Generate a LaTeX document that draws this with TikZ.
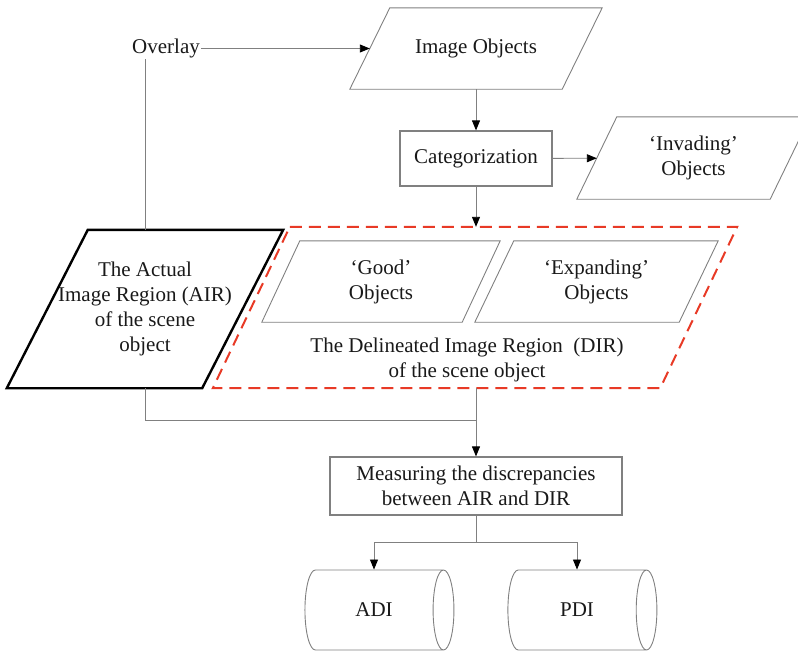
\documentclass[tikz,border=0pt]{standalone}
\usepackage{fontspec}
\setmainfont{Liberation Serif}
\usetikzlibrary{shapes.geometric,arrows.meta,positioning,calc}
\definecolor{dashred}{RGB}{232,58,38}
\tikzset{
    line/.style    = {draw=black!50, line width=0.9pt},
    arr/.style     = {line, -{Triangle[length=10pt,width=8pt,color=black,fill=black]}},
    txt/.style     = {font=\fontsize{21}{25}\selectfont, text=black!90, align=center, inner sep=1pt},
    para/.style    = {txt, rectangle, inner sep=0pt},
    paraline/.style = {draw=black!50, line width=0.9pt, line join=miter},
    airline/.style  = {draw=black, line width=2.4pt, line join=miter},
    dirline/.style  = {draw=dashred, line width=2pt, dash pattern=on 12pt off 7pt},
    box/.style     = {txt, rectangle, draw=black!50, line width=1.2pt, inner sep=0pt},
    store/.style   = {txt, cylinder, draw=black!50, line width=0.9pt, shape aspect=1.5,
                      minimum width=80pt, minimum height=149pt, inner sep=0pt}
}
% outline of a parallelogram round a node: #1 style, #2 node, #3 half slant
\newcommand{\paraedge}[3][paraline]{%
    \draw[#1] ($(#2.north west)+(#3,0)$) -- ($(#2.north east)+(#3,0)$)
        -- ($(#2.south east)-(#3,0)$) -- ($(#2.south west)-(#3,0)$) -- cycle;}
\begin{document}
\begin{tikzpicture}[x=1pt,y=-1pt]
    \clip (0,0) rectangle (798,653);

    % Top row
    \node[txt] (ovl) at (166,48.5) {Overlay};
    \node[para, minimum width=212pt, minimum height=81pt] (imgobj) at (476,48.5) {Image Objects};
    \paraedge{imgobj}{20}

    % Categorization row
    \node[box, minimum width=152pt, minimum height=55pt] (cat) at (476,158.5) {Categorization};
    \node[para, minimum width=193pt, minimum height=82pt] (inv) at (693.5,158) {‘Invading’\\Objects};
    \paraedge{inv}{20}

    % Image regions
    \node[para, minimum width=195pt, minimum height=158pt] (air) at (145,309)
          {The Actual\\Image Region (AIR)\\of the scene\\object};
    \paraedge[airline]{air}{40.5}
    \node[para, minimum width=447pt, minimum height=161pt] (dir) at (475,307.5) {};
    \paraedge[dirline]{dir}{38.5}
    \node[para, minimum width=200pt, minimum height=81pt] (good) at (381,281.5) {‘Good’\\Objects};
    \paraedge{good}{19}
    \node[para, minimum width=204pt, minimum height=81pt] (expd) at (596.5,281.5) {‘Expanding’\\Objects};
    \paraedge{expd}{19.5}
    \node[txt] (dirlbl) at (467,359.5) {The Delineated Image Region\ \ (DIR)\\of the scene object};

    % Measuring and outputs
    \node[box, minimum width=292pt, minimum height=58pt] (meas) at (476,486)
          {Measuring the discrepancies\\between AIR and DIR};
    \node[store] (adi) at (374,610) {ADI};
    \node[store] (pdi) at (577,610) {PDI};

    \coordinate (join) at (476,420);
    \coordinate (split) at (476,542);

    % Connectors
    \draw[arr] (ovl) -- (imgobj);
    \draw[line] (ovl.south -| air.north) -- (air.north);
    \draw[arr] (imgobj) -- (cat);
    \draw[arr] (cat) -- (inv);
    \draw[arr] (cat) -- (cat |- dir.north);
    \draw[line] (air.south) |- (join);
    \draw[arr] (cat |- dir.south) -- (meas);
    \draw[line] (meas) -- (split);
    \draw[arr] (split) -| (adi.north);
    \draw[arr] (split) -| (pdi.north);
\end{tikzpicture}
\end{document}
